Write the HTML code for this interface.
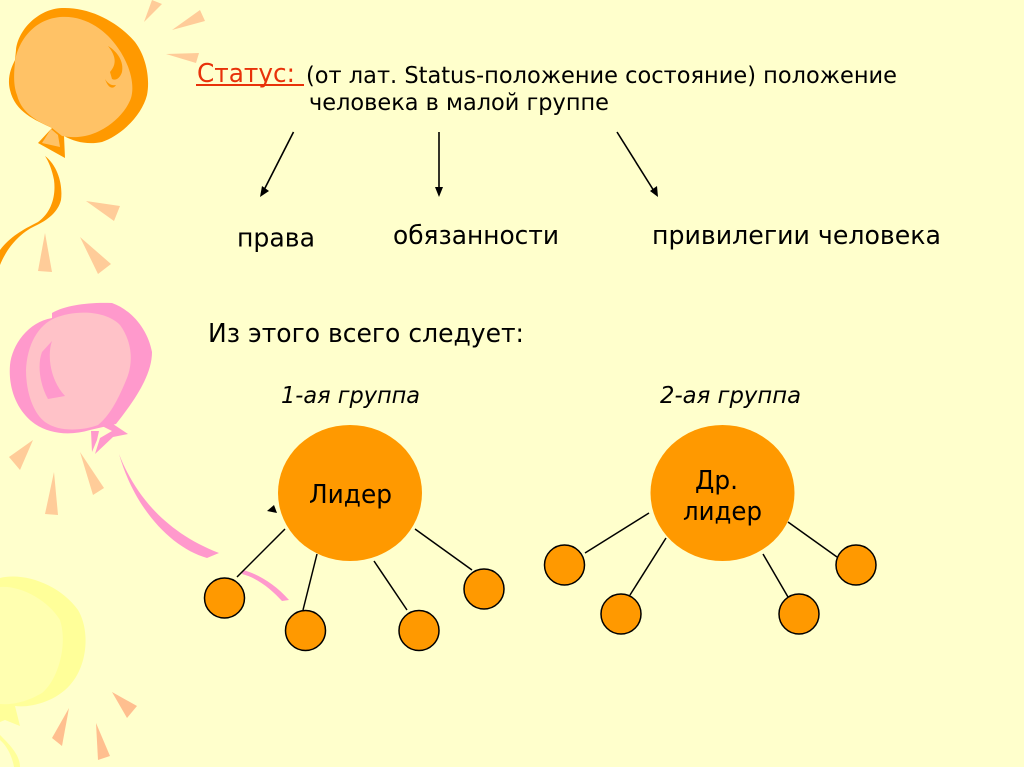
<!DOCTYPE html>
<html><head><meta charset="utf-8"><style>
html,body{margin:0;padding:0;background:#FFFFCC}
svg{display:block}
text{font-family:"DejaVu Sans",sans-serif;fill:#000}
</style></head><body>
<svg xmlns="http://www.w3.org/2000/svg" width="1024" height="767" viewBox="0 0 1024 767">
<rect width="1024" height="767" fill="#FFFFCC"/>
<!-- orange balloon -->
<path d="M16 50C18 30 38 9 62 8C90 7 118 22 135 42C147 58 150 80 147 95C142 115 122 135 102 142C88 145 75 142 64 136L65 158L38 143L52 128C35 120 15 112 10 90C7 78 11 68 15 60Z" fill="#FF9900"/>
<path d="M15 62C17 46 30 20 60 17C85 15 106 30 118 48C130 65 135 85 131 98C125 115 105 132 85 136C75 138 68 137 62 136L52 128C40 122 22 115 17 95C13 85 14 72 15 62Z" fill="#FFC266"/>
<path d="M51 129L58 135L60 147L42 143Z" fill="#FFC266"/>
<path d="M108 46C118 52 124 62 122 72C120 78 116 81 112 79L110 72C117 64 116 56 108 46Z" fill="#FF9900"/>
<path d="M105 79C108 84 112 86 116 85C113 90 108 88 105 79Z" fill="#FF9900"/>
<path d="M45 156C58 166 63 185 61 200C58 212 48 220 35 226C18 234 6 250 0 265L0 250C10 237 22 230 38 222C52 212 56 195 54 180C52 170 49 162 45 156Z" fill="#FF9900"/>
<g fill="#FFCC99">
<path d="M144 22L152 0L162 4Z"/><path d="M172 30L200 10L205 21Z"/><path d="M166 54L199 53L196 63Z"/>
<path d="M86 201L120 206L114 221Z"/><path d="M80 237L111 264L98 274Z"/><path d="M45 233L52 272L38 271Z"/>
</g>
<!-- pink balloon -->
<path d="M52 313C65 305 90 302 112 303C132 310 148 330 152 352C152 375 135 400 116 424L90 430C70 436 50 434 35 424C18 412 8 390 10 365C12 345 28 322 52 318Z" fill="#FF99CC"/>
<path d="M55 318C75 310 105 310 120 325C131 340 134 360 127 378C118 400 110 415 98 425C85 430 60 433 45 422C32 412 26 390 26 370C27 345 38 325 55 318Z" fill="#FFC2C8"/>
<path d="M52 341C47 355 50 380 65 396L48 399C40 385 37 365 42 352Z" fill="#FF99CC"/>
<path d="M91 431L92 452L97 440L99 431Z" fill="#FF99CC"/>
<path d="M95 454L113 437L128 434L113 424L102 426L112 431L100 438Z" fill="#FF99CC"/>
<path d="M119 454C135 495 165 532 219 553L207 558C172 548 135 510 119 454Z" fill="#FF99CC"/>
<path d="M243 570C258 574 275 584 289 600L282 601C272 590 258 578 242 574Z" fill="#FF99CC"/>
<g fill="#FFCC99">
<path d="M33 440L20 470L9 457Z"/><path d="M54 472L58 515L45 514Z"/><path d="M80 452L104 488L93 495Z"/>
</g>
<!-- yellow balloon -->
<path d="M0 578C25 572 60 585 78 610C90 630 88 665 70 685C55 702 30 708 15 706L20 726L5 720L0 722Z" fill="#FFFF99"/>
<path d="M0 587C20 585 48 600 60 620C68 645 58 680 42 693C25 703 10 705 0 704Z" fill="#FFFFB0"/>
<path d="M0 735C10 745 20 755 20 767L14 767C12 755 6 745 0 740Z" fill="#FFFF99"/>
<g fill="#FFBF8F">
<path d="M69 708L62 746L52 738Z"/><path d="M96 723L110 756L98 760Z"/><path d="M112 692L137 706L127 718Z"/>
</g>
<!-- text -->
<text x="197" y="82" font-size="26" style="fill:#E8320A" textLength="98" lengthAdjust="spacingAndGlyphs">Статус:</text>
<rect x="196" y="84" width="108" height="2" fill="#E8320A"/>
<text x="306" y="83" font-size="23.500" textLength="591" lengthAdjust="spacingAndGlyphs">(от лат. Status-положение состояние) положение</text>
<text x="309" y="110" font-size="23.500" textLength="300" lengthAdjust="spacingAndGlyphs">человека в малой группе</text>
<text x="237" y="246.500" font-size="26" textLength="78" lengthAdjust="spacingAndGlyphs">права</text>
<text x="393" y="244" font-size="26" textLength="166" lengthAdjust="spacingAndGlyphs">обязанности</text>
<text x="652" y="244" font-size="26" textLength="289" lengthAdjust="spacingAndGlyphs">привилегии человека</text>
<text x="208" y="342" font-size="26" textLength="316" lengthAdjust="spacingAndGlyphs">Из этого всего следует:</text>
<text x="281" y="403" font-size="23" font-style="italic" textLength="139" lengthAdjust="spacingAndGlyphs">1-ая группа</text>
<text x="660" y="403" font-size="23" font-style="italic" textLength="141" lengthAdjust="spacingAndGlyphs">2-ая группа</text>
<!-- arrows -->
<g stroke="#000" stroke-width="1.600" fill="none">
<line x1="293.500" y1="132" x2="264" y2="190"/>
<line x1="439" y1="132" x2="439" y2="190"/>
<line x1="617" y1="132" x2="654" y2="191"/>
</g>
<path d="M260 197L262 186L269 191Z"/>
<path d="M439 197L435 187L443 187Z"/>
<path d="M658 197L650 191L657 186Z"/>
<path d="M267 511L274 505L277 513Z"/>
<!-- connectors -->
<g stroke="#000" stroke-width="1.500" fill="none">
<line x1="285" y1="529" x2="237" y2="577"/>
<line x1="317" y1="554" x2="303" y2="610"/>
<line x1="374" y1="561" x2="407" y2="610"/>
<line x1="415" y1="529" x2="472" y2="570"/>
<line x1="649" y1="513" x2="585" y2="553"/>
<line x1="666" y1="538" x2="630" y2="595"/>
<line x1="763" y1="554" x2="788" y2="597"/>
<line x1="788" y1="522" x2="837" y2="557"/>
</g>
<ellipse cx="350" cy="493" rx="72" ry="68" fill="#FF9900"/>
<ellipse cx="722.500" cy="493" rx="72" ry="68" fill="#FF9900"/>
<g fill="#FF9900" stroke="#000" stroke-width="1.500">
<circle cx="224.500" cy="598" r="20"/>
<circle cx="305.500" cy="630.500" r="20"/>
<circle cx="419" cy="630.500" r="20"/>
<circle cx="484" cy="589" r="20"/>
<circle cx="564.500" cy="565" r="20"/>
<circle cx="621" cy="614" r="20"/>
<circle cx="799" cy="614" r="20"/>
<circle cx="856" cy="565" r="20"/>
</g>
<text x="309" y="503" font-size="26" textLength="83" lengthAdjust="spacingAndGlyphs">Лидер</text>
<text x="695" y="489" font-size="26" textLength="43" lengthAdjust="spacingAndGlyphs">Др.</text>
<text x="683" y="520" font-size="26" textLength="79" lengthAdjust="spacingAndGlyphs">лидер</text>
</svg>
</body></html>
